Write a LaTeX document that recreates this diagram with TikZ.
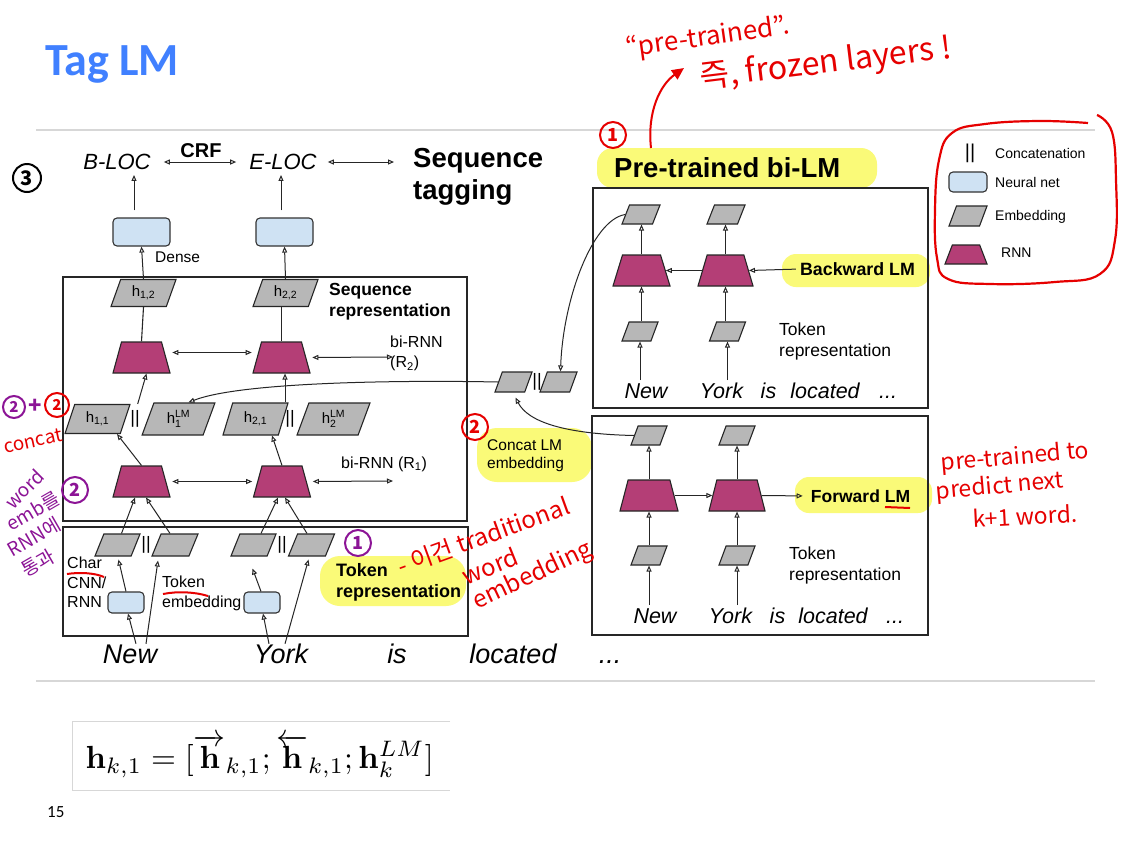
\documentclass[tikz,border=0pt]{standalone}
\usepackage[no-math]{fontspec}
\usepackage{amsmath}
\setmainfont{Liberation Sans}
\newfontfamily\carl{Carlito}
\newfontfamily\kr{Noto Sans CJK KR}
\usetikzlibrary{arrows.meta,shapes.geometric}
\definecolor{nnblue}{RGB}{207,226,243}
\definecolor{embgray}{RGB}{183,183,183}
\definecolor{rnnmag}{RGB}{180,62,118}
\definecolor{hlyel}{RGB}{250,250,120}
\definecolor{titleblue}{RGB}{64,128,255}
\definecolor{hred}{RGB}{230,0,0}
\definecolor{hpur}{RGB}{140,20,150}
\definecolor{sepgray}{RGB}{215,215,215}
\newcommand\fsz[2]{\fontsize{#1pt}{#2pt}\selectfont}
\begin{document}
\begin{tikzpicture}[x=1pt,y=-1pt,
  ln/.style={draw=black!85,line width=1.1pt},
  frame/.style={draw=black!85,line width=1.2pt,inner sep=0pt},
  arr/.style={draw=black!85,line width=1pt,-{Triangle[open,length=6pt,width=5pt]}},
  darr/.style={draw=black!85,line width=1pt,{Triangle[open,length=6pt,width=5pt]}-{Triangle[open,length=6pt,width=5pt]}},
  nn/.style={draw=black!80,fill=nnblue,rounded corners=4pt,line width=1.1pt,inner sep=0pt},
  emb/.style={trapezium,trapezium left angle=72,trapezium right angle=108,trapezium stretches=true,draw=black!85,fill=embgray,line width=1.1pt,inner sep=1pt,font=\fsz{15}{17}},
  rnn/.style={trapezium,trapezium left angle=78,trapezium right angle=78,trapezium stretches=true,draw=black!85,fill=rnnmag,line width=1.1pt,inner sep=1pt},
  cc/.style={font=\fsz{18}{18},inner sep=0pt},
  lbl/.style={font=\fsz{16}{19.5},align=left,inner sep=0pt},
  blbl/.style={font=\bfseries\fsz{17.5}{21},align=left,inner sep=0pt},
  word/.style={font=\itshape\fsz{27}{30},inner sep=0pt,text height=19pt,text depth=5pt},
  sword/.style={font=\itshape\fsz{21.5}{24},inner sep=0pt,text height=15.5pt,text depth=4pt},
  hw/.style={text=hred,font=\kr\fsz{24}{26},inner sep=0pt},
  hwp/.style={text=hpur,font=\kr\fsz{19}{21},inner sep=0pt},
  circr/.style={draw=hred,line width=2pt,circle,minimum size=26pt,inner sep=0pt,text=hred,font=\kr\bfseries\fsz{18}{18}},
  circp/.style={draw=hpur,line width=2pt,circle,minimum size=26pt,inner sep=0pt,text=hpur,font=\kr\bfseries\fsz{18}{18}}
]
\useasboundingbox[fill=white] (0,0) rectangle (1127,844);

% title and separators
\node[anchor=west,inner sep=0pt,text=titleblue,font=\carl\bfseries\fsz{46}{50}] (title) at (45,64) {Tag LM};
\draw[sepgray,line width=1.2pt] (36,130) -- (1095,130);
\draw[sepgray,line width=1.2pt] (36,681) -- (1095,681);

% highlights
\fill[hlyel,rounded corners=16pt] (597,148) rectangle (877,188);
\fill[hlyel,rounded corners=14pt] (782,254) rectangle (930,287);
\fill[hlyel,rounded corners=14pt] (795,477) rectangle (932,513);
\fill[hlyel,rounded corners=20pt] (477,428) rectangle (592,482);
\fill[hlyel,rounded corners=20pt] (320,556) rectangle (466,606);

% ---------- top row ----------
\node[font=\itshape\fsz{22}{26},inner sep=0pt] (bloc) at (117,162) {B-LOC};
\node[font=\itshape\fsz{22}{26},inner sep=0pt] (eloc) at (283,162) {E-LOC};
\node[font=\bfseries\fsz{20}{22},inner sep=0pt] (crf) at (201,151) {CRF};
\node[anchor=west,align=left,font=\bfseries\fsz{27.5}{32},inner sep=0pt] (seqtag) at (413,177) {Sequence\\tagging};
\draw[darr,shorten <=13pt,shorten >=13pt] (bloc.east) -- (eloc.west);
\draw[darr,shorten <=11pt,shorten >=19pt] (eloc.east) -- (seqtag.west |- eloc.east);

% dense
\node[nn,minimum width=57pt,minimum height=28pt] (d1) at (141.5,232) {};
\node[nn,minimum width=57pt,minimum height=28pt] (d2) at (284.5,232) {};
\node[lbl,anchor=west,font=\fsz{15.5}{18}] (dense) at (155,257) {Dense};
\draw[arr,shorten <=7pt,shorten >=5pt] ([xshift=-7.5pt]d1.north) -- ([xshift=-7.5pt]d1.north |- bloc.south);
\draw[arr,shorten <=7pt,shorten >=5pt] ([xshift=-3.5pt]d2.north) -- ([xshift=-3.5pt]d2.north |- eloc.south);

% ---------- sequence representation box ----------
\node[frame,minimum width=404pt,minimum height=244pt] (seqbox) at (265,399) {};
\node[emb,minimum width=65pt,minimum height=27pt] (h12) at (143.5,293) {h$_{\text{1,2}}$};
\node[emb,minimum width=65pt,minimum height=27pt] (h22) at (285.5,293) {h$_{\text{2,2}}$};
\node[blbl,anchor=west] (seqrep) at (329,302) {Sequence\\representation};
\draw[arr] (h12.north) -- (d1.south);
\draw[arr] (h22.north) -- (d2.south);

\node[rnn,minimum width=57pt,minimum height=31pt] (r2a) at (141.5,357.5) {};
\node[rnn,minimum width=57pt,minimum height=31pt] (r2b) at (281.5,357.5) {};
\draw[ln] (r2a.north) -- (h12.south);
\draw[ln] (r2b.north) -- (r2b.north |- h22.south);
\draw[darr,shorten <=6pt,shorten >=5pt] ([yshift=5pt]r2a.east) -- ([yshift=5pt]r2b.west);
\coordinate (r2end) at (393,357);
\draw[darr,shorten <=6pt] (r2b.east) -- (r2end);
\node[lbl,anchor=north west,font=\fsz{16}{20}] (birnn2) at (390,336) {bi-RNN\\(R$_{\text{2}}$)};

\node[emb,minimum width=65pt,minimum height=29pt] (h11) at (97.5,419) {h$_{\text{1,1}}$};
\node[cc] (cat1) at (135,419) {||};
\node[emb,minimum width=73pt,minimum height=32pt] (h1lm) at (178.5,419) {h$_{\text{1}}^{\text{LM}}$};
\node[emb,minimum width=65pt,minimum height=32pt] (h21) at (255.5,419) {h$_{\text{2,1}}$};
\node[cc] (cat2) at (290,419) {||};
\node[emb,minimum width=73pt,minimum height=32pt] (h2lm) at (333.5,419) {h$_{\text{2}}^{\text{LM}}$};
\draw[arr] ([xshift=7pt]h11.top right corner) -- ([xshift=5pt]r2a.south);
\draw[arr] ([xshift=3.5pt]r2b.south |- h21.north) -- ([xshift=3.5pt]r2b.south);

\node[rnn,minimum width=57pt,minimum height=31pt] (r1a) at (141.5,481.5) {};
\node[rnn,minimum width=57pt,minimum height=31pt] (r1b) at (282,481.5) {};
\draw[arr] (r1a.north) -- ([xshift=19.5pt]h11.south);
\draw[arr] (r1b.north) -- ([xshift=16.5pt]h21.south);
\draw[darr,shorten <=6pt,shorten >=5pt] (r1a.east) -- (r1b.west);
\coordinate (r1end) at (393,481);
\draw[darr,shorten <=6pt] (r1b.east) -- (r1end);
\node[lbl,anchor=west,font=\fsz{16}{20}] (birnn1) at (341,464) {bi-RNN (R$_{\text{1}}$)};

% ---------- token representation box ----------
\node[frame,minimum width=405pt,minimum height=109pt] (tokbox) at (265.5,581.5) {};
\node[emb,minimum width=45pt,minimum height=22pt] (te1) at (117.5,545) {};
\node[cc] (cat3) at (146,545) {||};
\node[emb,minimum width=46pt,minimum height=22pt] (te2) at (175,545) {};
\node[emb,minimum width=45pt,minimum height=22pt] (te3) at (253.5,545) {};
\node[cc] (cat4) at (282,545) {||};
\node[emb,minimum width=46pt,minimum height=22pt] (te4) at (311.5,545) {};
\node[lbl,anchor=north west] (charl) at (67,557) {Char\\CNN/\\RNN};
\node[lbl,anchor=north west] (tokl) at (162,576) {Token\\embedding};
\node[nn,minimum width=36pt,minimum height=21pt] (cb1) at (126,602.5) {};
\node[nn,minimum width=36pt,minimum height=21pt] (cb2) at (262,602.5) {};
\node[blbl,anchor=north west,font=\bfseries\fsz{18}{21}] (tokrep) at (336,563) {Token\\representation};

\node[word] (wnew) at (130,656) {New};
\node[word] (wyork) at (281,656) {York};
\node[word] (wis) at (397,656) {is};
\node[word] (wloc) at (513,656) {located};
\node[word] (wdots) at (610,656) {...};

\draw[arr] (cb1.north) -- ([xshift=1pt,yshift=-3pt]te1.south);
\draw[arr] ([xshift=16pt]wnew.north) -- ([xshift=-17pt,yshift=-4pt]te2.south);
\draw[arr] ([xshift=6pt]wnew.north) -- ([xshift=2pt]cb1.south);
\draw[arr] ([xshift=-12pt]wyork.north) -- ([xshift=1pt]cb2.south);
\draw[arr] ([xshift=4pt]wyork.north) -- ([xshift=-3pt,yshift=-3pt]te4.south);
\draw[arr] ([xshift=-1pt]cb2.north) -- ([xshift=-1pt,yshift=-12pt]te3.south);
\draw[arr] ([xshift=4pt]te1.north) -- ([xshift=-6.5pt]r1a.south);
\draw[arr] ([xshift=-5pt]te2.north) -- ([xshift=4.5pt]r1a.south);
\draw[arr] ([xshift=7.5pt]te3.north) -- ([xshift=-4pt]r1b.south);
\draw[arr] ([xshift=-4.5pt]te4.north) -- ([xshift=3pt]r1b.south);

% ---------- concat LM embedding ----------
\node[emb,minimum width=37pt,minimum height=20pt] (cl) at (513.5,382) {};
\node[cc] (cat5) at (537,382) {||};
\node[emb,minimum width=37pt,minimum height=20pt] (cr) at (558.5,382) {};
\node[lbl,anchor=north west,font=\fsz{15.5}{18}] (catlm) at (487,439) {Concat LM\\embedding};
\draw[arr] (cl.west) .. controls (400,380) and (240,382) .. ([xshift=10pt]h1lm.north);

% ---------- backward LM ----------
\node[blbl,font=\bfseries\fsz{27.5}{30},anchor=west] (bilm) at (614,168) {Pre-trained bi-LM};
\node[frame,minimum width=335pt,minimum height=220pt] (bwbox) at (760.5,298) {};
\node[emb,minimum width=38pt,minimum height=19pt] (bp1) at (641,214.5) {};
\node[emb,minimum width=38pt,minimum height=19pt] (bp2) at (726,214.5) {};
\node[rnn,trapezium left angle=76,trapezium right angle=76,minimum width=57pt,minimum height=31pt] (bt1) at (641.5,270.5) {};
\node[rnn,trapezium left angle=76,trapezium right angle=76,minimum width=55pt,minimum height=31pt] (bt2) at (725.5,270.5) {};
\node[emb,minimum width=36pt,minimum height=19pt] (bp3) at (640,331.5) {};
\node[emb,minimum width=36pt,minimum height=19pt] (bp4) at (727.5,331.5) {};
\node[blbl,font=\bfseries\fsz{17.8}{20}] (bwlm) at (857.5,269) {Backward LM};
\node[lbl,anchor=north west,font=\fsz{17.5}{21}] (bwtok) at (779,323) {Token\\representation};
\node[sword] (bnew) at (646,393) {New};
\node[sword] (byork) at (721.5,393) {York};
\node[sword] (bis) at (768.5,393) {is};
\node[sword] (bloc2) at (825,393) {located};
\node[sword] (bdots) at (888,393) {...};
\draw[arr] (bt1.north) -- (bt1.north |- bp1.south);
\draw[arr] (bt2.north) -- (bt2.north |- bp2.south);
\draw[arr] (bt2.west) -- (bt1.east);
\draw[arr,shorten <=4pt] (bwlm.west) -- (bt2.east);
\draw[arr] (bt1.south |- bp3.north) -- (bt1.south);
\draw[arr] (bt2.south |- bp4.north) -- (bt2.south);
\draw[arr] ([yshift=3pt]bp3.south |- bnew.north) -- (bp3.south);
\draw[arr] ([yshift=3pt]bp4.south |- byork.north) -- (bp4.south);
\draw[arr] (bp1.west) .. controls (592,220) and (563,300) .. ([xshift=2pt]cr.north);

% ---------- forward LM ----------
\node[frame,minimum width=336pt,minimum height=219pt] (fwbox) at (760,525.5) {};
\node[emb,minimum width=36pt,minimum height=19pt] (fp1) at (649,435.5) {};
\node[emb,minimum width=36pt,minimum height=19pt] (fp2) at (737,435.5) {};
\node[rnn,trapezium left angle=79,trapezium right angle=79,minimum width=58pt,minimum height=31pt] (ft1) at (649,495.5) {};
\node[rnn,trapezium left angle=79,trapezium right angle=79,minimum width=56pt,minimum height=31pt] (ft2) at (737,495.5) {};
\node[emb,minimum width=36pt,minimum height=19pt] (fp3) at (649,555.5) {};
\node[emb,minimum width=36pt,minimum height=19pt] (fp4) at (737,555.5) {};
\node[blbl,font=\bfseries\fsz{17.5}{20}] (fwlm) at (860.5,496) {Forward LM};
\node[lbl,anchor=north west,font=\fsz{17.5}{21}] (fwtok) at (789,547) {Token\\representation};
\node[sword] (fnew) at (655,618) {New};
\node[sword] (fyork) at (730.5,618) {York};
\node[sword] (fis) at (777.5,618) {is};
\node[sword] (floc) at (833,618) {located};
\node[sword] (fdots) at (895,618) {...};
\draw[arr] (ft1.north) -- (ft1.north |- fp1.south);
\draw[arr] (ft2.north) -- (ft2.north |- fp2.south);
\draw[arr] (ft1.east) -- (ft2.west);
\draw[arr,shorten >=8pt] (ft2.east) -- (fwlm.west);
\draw[arr] (ft1.south |- fp3.north) -- (ft1.south);
\draw[arr] (ft2.south |- fp4.north) -- (ft2.south);
\draw[arr] ([yshift=3pt]fp3.south |- fnew.north) -- (fp3.south);
\draw[arr] ([yshift=3pt]fp4.south |- fyork.north) -- (fp4.south);
\draw[arr] (fp1.west) .. controls (565,434) and (528,422) .. ([xshift=2pt,yshift=-5pt]cl.south);

% ---------- legend ----------
\node[cc,font=\fsz{20}{20}] (lcat) at (970,153) {||};
\node[lbl,anchor=west,font=\fsz{14}{16}] (lcatt) at (995,153) {Concatenation};
\node[nn,minimum width=38pt,minimum height=20pt] (lnn) at (968,182) {};
\node[lbl,anchor=west,font=\fsz{14}{16}] (lnnt) at (995,182) {Neural net};
\node[emb,minimum width=38pt,minimum height=20pt] (lemb) at (968,216) {};
\node[lbl,anchor=west,font=\fsz{14}{16}] (lembt) at (995,217) {Embedding};
\node[rnn,trapezium left angle=75,trapezium right angle=75,minimum width=42pt,minimum height=19pt] (lrnn) at (966,254.5) {};
\node[lbl,anchor=west,font=\fsz{14}{16}] (lrnnt) at (1001,253) {RNN};

% ---------- formula and page number ----------
\draw[sepgray,line width=1pt] (450,721) -- (72,721) -- (72,790) -- (450,790);
\node[anchor=west,inner sep=0pt,scale=3.2] (formula) at (85,756) {$\mathbf{h}_{k,1}=[\overrightarrow{\mathbf{h}}_{k,1};\overleftarrow{\mathbf{h}}_{k,1};\mathbf{h}_{k}^{LM}]$};
\node[anchor=west,inner sep=0pt,font=\carl\fsz{17}{18}] (pnum) at (47,812) {15};

% ---------- handwritten annotations ----------
\node[circle,draw=black,line width=2pt,minimum size=28pt,inner sep=0pt,font=\kr\bfseries\fsz{20}{20}] (c3) at (27,178) {3};
\node[hw,rotate=8,font=\kr\fsz{26}{28}] (hpre) at (708,38) {“pre-trained”.};
\node[hw,rotate=7,font=\kr\fsz{32}{34}] (hfrozen) at (826,64) {즉, frozen layers !};
\node[circr] (c1r) at (613,135) {1};
\coordinate (arrtail) at (651,148);
\coordinate (arrtip) at (684,68);
\draw[hred,line width=2pt,-{Triangle[length=12pt,width=11pt]}] (arrtail) .. controls (647,112) and (660,85) .. (arrtip);
\draw[hred,line width=2.2pt] plot[smooth,tension=0.7] coordinates {(1088,123) (1040,121) (985,124) (952,133) (939,160) (935,210) (937,258) (948,279) (990,284) (1055,282) (1100,274) (1115,240) (1116,180) (1112,132) (1097,115)};
\node[circr] (c2r) at (475,427) {2};
\draw[hred,line width=2pt] (67,574) .. controls (80,572) and (95,573) .. (104,577);
\draw[hred,line width=2pt] (163,594) .. controls (178,591) and (195,592) .. (208,596);
\draw[hred,line width=2pt] (885,507) -- (910,508);
\node[circp] (c1p) at (358,543) {1};
\node[hw,rotate=20,anchor=west] (htrad) at (398,567) {- 이건 traditional};
\node[hw,rotate=22] (hword) at (490,566) {word};
\node[hw,rotate=25] (hemb) at (533,576) {embedding};
\node[hw,rotate=5,font=\kr\fsz{23}{25}] (hpt1) at (1015,458) {pre-trained to};
\node[hw,rotate=5,font=\kr\fsz{23}{25}] (hpt2) at (1000,487) {predict next};
\node[hw,rotate=3,font=\kr\fsz{23}{25}] (hpt3) at (1025,516) {k+1 word.};
\node[circp,minimum size=22pt,font=\kr\bfseries\fsz{15}{15}] (c2p1) at (14,407) {2};
\node[hwp,font=\kr\bfseries\fsz{22}{22}] (plus) at (35,406) {+};
\node[circr,minimum size=24pt,font=\kr\bfseries\fsz{15}{15}] (c2r2) at (57,405) {2};
\node[hw,rotate=12,font=\kr\fsz{19}{21}] (hconcat) at (33,441) {concat};
\node[hwp,rotate=45] (hpw) at (24,489) {word};
\node[hwp,rotate=30] (hpe) at (33,511) {emb를};
\node[hwp,rotate=30] (hpr) at (34,537) {RNN에};
\node[hwp,rotate=30] (hpt) at (38,563) {통과};
\node[circp] (c2p2) at (75,490) {2};
\end{tikzpicture}
\end{document}
